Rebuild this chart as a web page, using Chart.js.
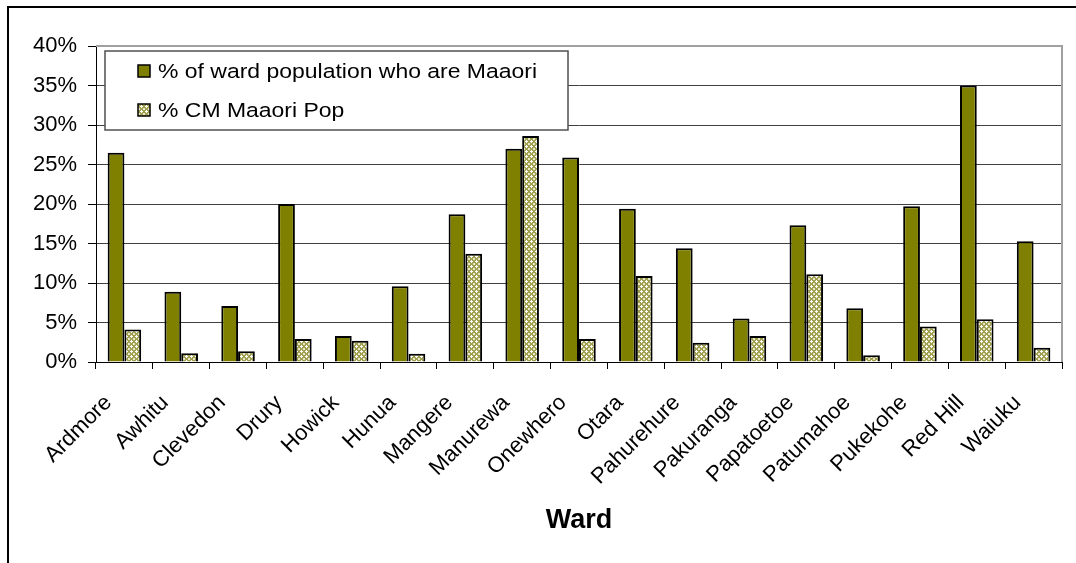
<!DOCTYPE html>
<html>
<head>
<meta charset="utf-8">
<script src="https://cdn.jsdelivr.net/npm/chart.js@4.4.0/dist/chart.umd.min.js"></script>
<style>
html, body { margin: 0; padding: 0; background: #fff; }
#wrap { width: 1076px; height: 563px; position: relative; }
</style>
</head>
<body>
<div id="wrap"><canvas id="wardChart"></canvas></div>
<script>
// ward names along the x axis
var wards = ['Ardmore', 'Awhitu', 'Clevedon', 'Drury', 'Howick', 'Hunua', 'Mangere', 'Manurewa',
             'Onewhero', 'Otara', 'Pahurehure', 'Pakuranga', 'Papatoetoe', 'Patumahoe', 'Pukekohe',
             'Red Hill', 'Waiuku'];
// % of ward population who are Maaori
var wardMaaori = [26.5, 8.9, 7.1, 20.0, 3.3, 9.6, 18.7, 27.0, 25.9, 19.4, 14.4, 5.5, 17.3, 6.8, 19.7, 35.0, 15.3];
// % of Counties Manukau Maaori population
var cmMaaoriPop = [4.1, 1.1, 1.35, 2.9, 2.7, 1.05, 13.7, 28.6, 2.9, 10.9, 2.45, 3.3, 11.1, 0.85, 4.5, 5.4, 1.8];
var seriesNames = ['% of ward population who are Maaori', '% CM Maaori Pop'];
var yTicks = [0, 5, 10, 15, 20, 25, 30, 35, 40];

var FONT = '"Liberation Sans", Arial, sans-serif';

// confetti pattern for the second series
function makePattern() {
    var c = document.createElement('canvas');
    c.width = 5; c.height = 5;
    var p = c.getContext('2d');
    p.fillStyle = '#a0a050';
    p.fillRect(0, 0, 5, 5);
    p.fillStyle = '#ffffff';
    p.fillRect(1, 0, 1, 3);
    p.fillRect(0, 1, 3, 1);
    p.fillStyle = '#e8e8c8';
    p.fillRect(3, 3, 2, 2);
    return p.createPattern(c, 'repeat');
}

var ctx = document.getElementById('wardChart');
var hatch = makePattern();

// frame, plot border and the boxed legend sitting over the plot
var boxLegend = {
    id: 'boxLegend',
    afterDraw: function(chart) {
        var g = chart.ctx;
        var a = chart.chartArea;
        g.save();
        g.strokeStyle = '#000';
        g.lineWidth = 2;
        g.beginPath();
        g.moveTo(8, 563); g.lineTo(8, 7); g.lineTo(1076, 7);
        g.stroke();

        g.strokeStyle = '#a0a0a0';
        g.lineWidth = 2;
        g.beginPath();
        g.moveTo(a.left, a.top); g.lineTo(a.right, a.top); g.lineTo(a.right, a.bottom);
        g.stroke();

        var bx = 105, by = 51, bw = 463, bh = 79;
        g.fillStyle = '#fff';
        g.fillRect(bx, by, bw, bh);
        g.strokeStyle = '#505050';
        g.lineWidth = 1.5;
        g.strokeRect(bx, by, bw, bh);

        chart.data.datasets.forEach(function(ds, i) {
            var cy = 71 + i * 39;
            g.fillStyle = ds.backgroundColor;
            g.fillRect(138, cy - 6, 12, 12);
            g.strokeStyle = '#000';
            g.lineWidth = 1.5;
            g.strokeRect(138, cy - 6, 12, 12);
            // the original text is a little stretched sideways
            g.save();
            g.translate(158, cy + 1);
            g.scale(1.12, 1);
            g.font = '20.5px ' + FONT;
            g.textBaseline = 'middle';
            g.fillStyle = '#000';
            g.fillText(ds.label, 0, 0);
            g.restore();
        });
        g.restore();
    }
};

var chart = new Chart(ctx, {
    type: 'bar',
    data: {
        labels: wards,
        datasets: [{
            label: seriesNames[0],
            data: wardMaaori,
            backgroundColor: '#808000',
            borderColor: '#000',
            borderWidth: 2,
            categoryPercentage: 0.59,
            barPercentage: 1.0
        }, {
            label: seriesNames[1],
            data: cmMaaoriPop,
            backgroundColor: hatch,
            borderColor: '#000',
            borderWidth: 2,
            categoryPercentage: 0.59,
            barPercentage: 1.0
        }]
    },
    options: {
        responsive: true,
        maintainAspectRatio: false,
        animation: false,
        devicePixelRatio: 1,
        layout: { padding: { top: 46, right: 14, left: 0, bottom: 0 } },
        plugins: {
            legend: { display: false },
            tooltip: { enabled: false }
        },
        scales: {
            x: {
                afterFit: function(s) { s.height = 201; },
                grid: {
                    offset: true,
                    drawOnChartArea: false,
                    drawTicks: true,
                    tickLength: 7,
                    color: '#000'
                },
                border: { display: true, color: '#000', width: 1 },
                ticks: {
                    color: '#000',
                    font: { family: FONT, size: 22 },
                    maxRotation: 45,
                    minRotation: 45,
                    padding: 21,
                    labelOffset: -16,
                    autoSkip: false
                },
                title: {
                    display: true,
                    text: 'Ward',
                    color: '#000',
                    font: { family: FONT, size: 27, weight: 'bold' },
                    padding: { top: 0, bottom: 26 }
                }
            },
            y: {
                min: 0,
                max: 40,
                afterFit: function(s) { s.width = 96; },
                afterBuildTicks: function(s) {
                    s.ticks = yTicks.map(function(v) { return { value: v }; });
                },
                grid: {
                    color: function(c) { return c.tick && c.tick.value === 40 ? '#a0a0a0' : '#404040'; },
                    lineWidth: 1,
                    drawTicks: true,
                    tickLength: 8,
                    tickColor: '#000'
                },
                border: { display: true, color: '#000', width: 1 },
                ticks: {
                    color: '#000',
                    font: { family: FONT, size: 22 },
                    padding: 11,
                    callback: function(v) { return v + '%'; }
                }
            }
        }
    },
    plugins: [boxLegend]
});
</script>
</body>
</html>
